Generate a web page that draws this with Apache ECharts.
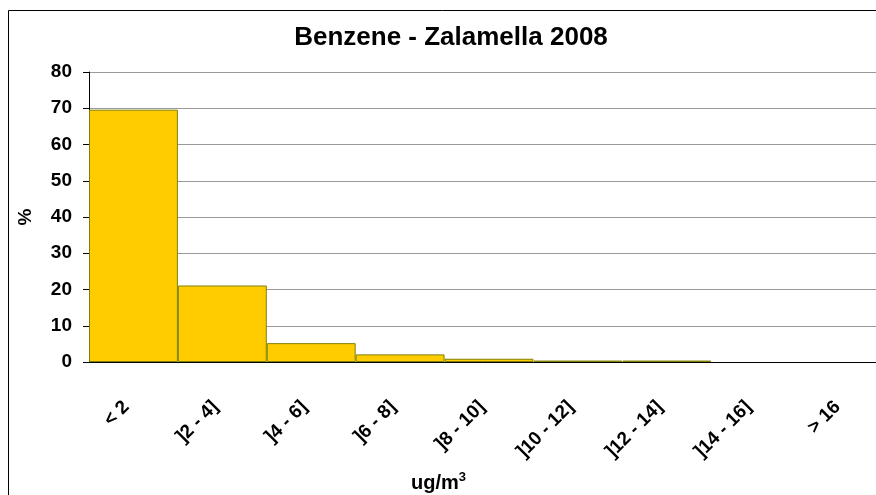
<!DOCTYPE html>
<html lang="it">
  <head>
    <meta charset="UTF-8" />
    <title>Benzene - Zalamella 2008</title>
    <script src="https://cdn.jsdelivr.net/npm/echarts@6.0.0/dist/echarts.min.js"></script>
    <style>
      body { margin: 0; background: #fff; }
    </style>
  </head>
  <body>
    <div id="main" style="width: 876px; height: 495px"></div>
    <script type="text/javascript">
      // classi di concentrazione (ug/m3)
      const categories = ['< 2', ']2 - 4]', ']4 - 6]', ']6 - 8]', ']8 - 10]', ']10 - 12]', ']12 - 14]', ']14 - 16]', '> 16'];
      // percentuale di ore per classe
      const percent = [69.6, 21.1, 5.2, 2.1, 0.9, 0.4, 0.4, 0, 0];
      // tacche asse y
      const yTicks = [0, 10, 20, 30, 40, 50, 60, 70, 80];

      const font = 'Arial, "Liberation Sans", sans-serif';
      const myChart = echarts.init(document.getElementById('main'));

      // le barre a zero non si vedono (niente bordo)
      const barData = percent.map((v) =>
        v === 0 ? { value: v, itemStyle: { borderWidth: 0, color: 'transparent' } } : v
      );

      const option = {
        backgroundColor: '#fff',
        animation: false,
        title: {
          text: 'Benzene - Zalamella 2008',
          left: 446,
          top: 20,
          textAlign: 'center',
          textStyle: { fontFamily: font, fontSize: 26, fontWeight: 'bold', color: '#000' },
        },
        graphic: [
          {
            type: 'rect',
            shape: { x: 8.5, y: 10.5, width: 900, height: 520 },
            style: { fill: 'none', stroke: '#000', lineWidth: 1 },
            silent: true,
          },
          {
            type: 'text',
            left: 411,
            top: 471,
            style: {
              text: '{b|ug/m}{s|3}',
              rich: {
                b: { fontFamily: font, fontSize: 20, fontWeight: 'bold', fill: '#000', verticalAlign: 'bottom' },
                s: { fontFamily: font, fontSize: 13, fontWeight: 'bold', fill: '#000', verticalAlign: 'top', padding: [0, 0, 9, 0] },
              },
            },
          },
        ],
        grid: { left: 89, top: 72, width: 800, height: 290, containLabel: false, outerBoundsMode: 'none' },
        xAxis: {
          type: 'category',
          data: categories,
          axisLine: { lineStyle: { color: '#000', width: 1 } },
          axisTick: { length: 6, lineStyle: { color: '#000' } },
          axisLabel: {
            rotate: 45,
            interval: 0,
            margin: 35,
            padding: [0, 10, 0, 0],
            fontFamily: font,
            fontSize: 19,
            fontWeight: 'bold',
            color: '#000',
          },
        },
        yAxis: {
          type: 'value',
          min: yTicks[0],
          max: yTicks[yTicks.length - 1],
          interval: yTicks[1] - yTicks[0],
          name: '%',
          nameLocation: 'middle',
          nameGap: 54,
          nameRotate: 90,
          nameTextStyle: { fontFamily: font, fontSize: 19, fontWeight: 'bold', color: '#000' },
          axisLine: { show: true, lineStyle: { color: '#000' } },
          axisTick: { show: true, length: 6, lineStyle: { color: '#000' } },
          axisLabel: { margin: 17, fontFamily: font, fontSize: 19, fontWeight: 'bold', color: '#000' },
          splitLine: { lineStyle: { color: '#999', width: 1 } },
        },
        series: [
          {
            type: 'bar',
            data: barData,
            barCategoryGap: 0,
            itemStyle: { color: '#ffcc00', borderColor: '#808000', borderWidth: 1 },
          },
        ],
      };

      myChart.setOption(option);
    </script>
  </body>
</html>
